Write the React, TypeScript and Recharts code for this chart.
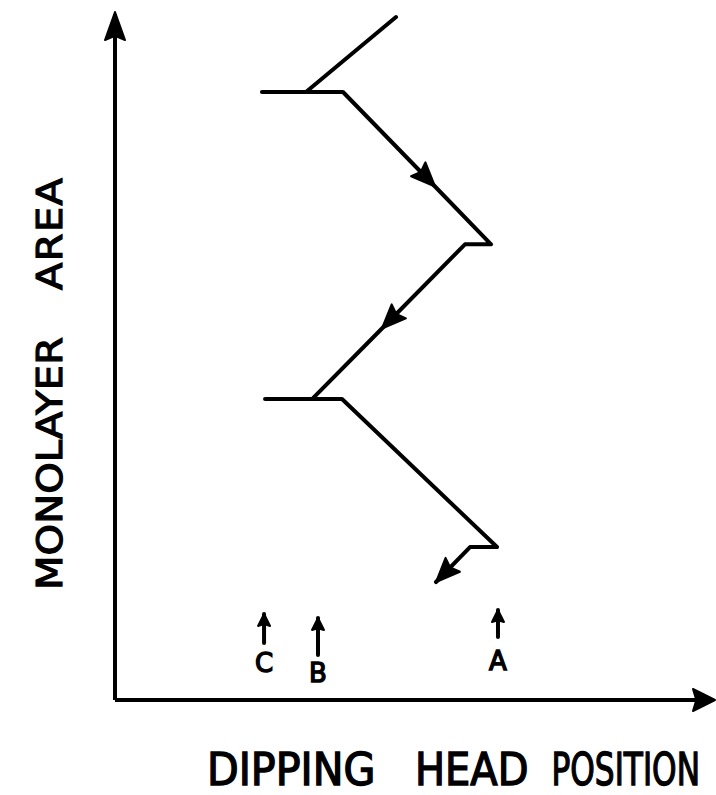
import { ComposedChart, Line, Scatter, XAxis, YAxis, ReferenceDot } from "recharts";

// zig-zag trace of monolayer area vs dipping head position (arbitrary units)
const pathX = [28.34, 19.26, 14.82, 22.99, 32.27, 37.92, 35.29, 26.92, 19.87, 15.13, 22.89, 38.52, 35.8, 32.37];
const pathY = [69.69, 62.04, 62.04, 62.04, 52.4, 46.5, 46.5, 37.91, 30.71, 30.71, 30.71, 15.61, 15.61, 12.04];
const arrowAt = [4, 7, 13];

// position markers along the bottom
const markerLabels = ["C", "B", "A"];
const markerX = [15.03, 20.47, 38.62];
const markerTipY = [8.78, 8.37, 9.18];
const markerTailY = [5.82, 4.59, 6.43];
const markerLabelY = [2.86, 1.84, 3.06];

const X_MAX = 60;
const Y_MAX = 70;

const W = 716;
const H = 795;
const M = { top: 14, right: 6, left: 55, bottom: 0 };
const Y_AXIS_W = 60;
const X_AXIS_H = 95;
const kx = (W - M.left - Y_AXIS_W - M.right) / X_MAX;
const ky = (H - M.top - X_AXIS_H) / Y_MAX;

const pathData = pathX.map((x, i) => ({ x, y: pathY[i] }));
const labelData = markerLabels.map((label, i) => ({ x: markerX[i], y: markerLabelY[i], label }));

const head = (cx: number, cy: number, deg: number, len: number, wid: number, key: string) => (
    <polygon
        key={key}
        points={`0,0 ${-len},${-wid / 2} ${-len * 0.85},0 ${-len},${wid / 2}`}
        transform={`translate(${cx},${cy}) rotate(${deg})`}
        fill="#000"
        stroke="#000"
        strokeWidth={2}
        strokeLinejoin="round"
    />
);

const pathDot = (p: any) => {
    const i = p.index;
    if (!arrowAt.includes(i) || i === 0) return <g key={`pd-${i}`} />;
    const prev = pathData[i - 1];
    const cur = pathData[i];
    const deg = (Math.atan2(-(cur.y - prev.y) * ky, (cur.x - prev.x) * kx) * 180) / Math.PI;
    return head(p.cx, p.cy, deg, 24, 20, `pd-${i}`);
};

const markerDot = (p: any) => {
    if (p.index !== 1) return <g key={`md-${p.index}`} />;
    return head(p.cx, p.cy, -90, 12, 12, `md-${p.index}`);
};

const font = "'DejaVu Sans', sans-serif";

// scale text around an anchor point (sx along the baseline, sy across it)
const stretch = (x: number, y: number, sx: number, sy: number, rot = 0) =>
    `rotate(${rot} ${x} ${y}) translate(${x} ${y}) scale(${sx} ${sy}) translate(${-x} ${-y})`;

export default function App() {
    return (
        <div style={{ position: "absolute", left: 0, top: 0, width: W, height: H, background: "#fff" }}>
            <ComposedChart width={W} height={H} margin={M}>
                <XAxis
                    type="number"
                    dataKey="x"
                    domain={[0, X_MAX]}
                    allowDataOverflow
                    height={X_AXIS_H}
                    tick={false}
                    tickLine={false}
                    axisLine={{ stroke: "#000", strokeWidth: 4 }}
                    label={{
                        content: () => (
                            <g fontFamily={font} fontSize={40} fill="#000" stroke="#000" strokeWidth={1.3}>
                                <text x={207} y={785} transform={stretch(207, 785, 1.03, 1.1)}>
                                    DIPPING
                                </text>
                                <text x={415} y={785} transform={stretch(415, 785, 1, 1.1)}>
                                    HEAD
                                </text>
                                <text x={700} y={785} textAnchor="end" transform={stretch(700, 785, 0.78, 1.1)}>
                                    POSITION
                                </text>
                            </g>
                        ),
                    }}
                />
                <YAxis
                    type="number"
                    dataKey="y"
                    domain={[0, Y_MAX]}
                    allowDataOverflow
                    width={Y_AXIS_W}
                    tick={false}
                    tickLine={false}
                    axisLine={{ stroke: "#000", strokeWidth: 4 }}
                    label={{
                        content: () => (
                            <g fontFamily={font} fontSize={40} fill="#000" stroke="#000" strokeWidth={1.3}>
                                <text x={62} y={590} transform={stretch(62, 590, 1, 0.87, -90)} textLength={253} lengthAdjust="spacing">
                                    MONOLAYER
                                </text>
                                <text x={62} y={290} transform={stretch(62, 290, 1, 0.87, -90)} textLength={112} lengthAdjust="spacing">
                                    AREA
                                </text>
                            </g>
                        ),
                    }}
                />
                <Line
                    data={pathData}
                    dataKey="y"
                    type="linear"
                    stroke="#000"
                    strokeWidth={4}
                    strokeLinejoin="round"
                    strokeLinecap="round"
                    dot={pathDot}
                    activeDot={false}
                    isAnimationActive={false}
                />
                {markerLabels.map((m, i) => (
                    <Line
                        key={m}
                        data={[
                            { x: markerX[i], y: markerTailY[i] },
                            { x: markerX[i], y: markerTipY[i] },
                        ]}
                        dataKey="y"
                        type="linear"
                        stroke="#000"
                        strokeWidth={4}
                        strokeLinecap="round"
                        dot={markerDot}
                        activeDot={false}
                        isAnimationActive={false}
                    />
                ))}
                <Scatter
                    data={labelData}
                    dataKey="y"
                    isAnimationActive={false}
                    shape={(p: any) => (
                        <text
                            x={p.cx}
                            y={p.cy}
                            textAnchor="middle"
                            fontFamily={font}
                            fontSize={26}
                            fill="#000"
                            stroke="#000"
                            strokeWidth={1.4}
                        >
                            {p.payload.label}
                        </text>
                    )}
                />
                <ReferenceDot x={0} y={Y_MAX} ifOverflow="visible" shape={(p: any) => head(p.cx, p.cy - 2, -90, 28, 20, "ya")} />
                <ReferenceDot x={X_MAX} y={0} ifOverflow="visible" shape={(p: any) => head(p.cx + 5, p.cy, 0, 22, 22, "xa")} />
            </ComposedChart>
        </div>
    );
}
